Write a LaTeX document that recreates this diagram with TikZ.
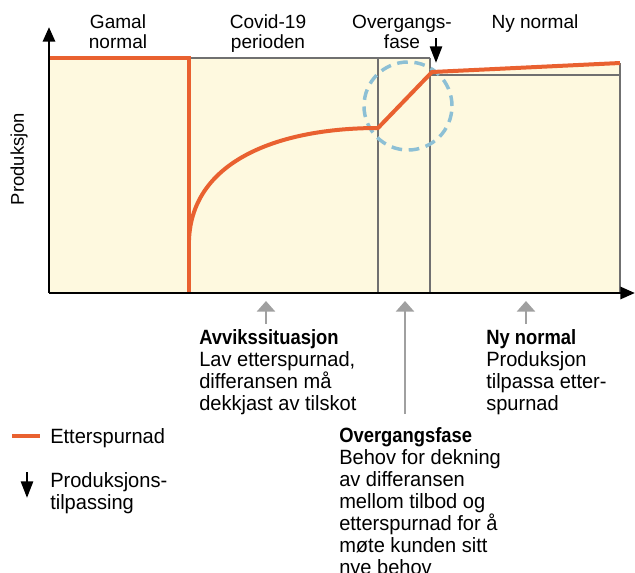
\documentclass[tikz,border=0pt]{standalone}
\usepackage{fontspec}
\setmainfont{Liberation Sans}
\newfontfamily\condfont[FakeStretch=0.97]{Liberation Sans}
\newfontfamily\condbold[FakeStretch=0.89]{Liberation Sans Bold}
\usetikzlibrary{arrows.meta}
\definecolor{orng}{RGB}{233,97,48}
\definecolor{cream}{RGB}{254,249,223}
\definecolor{boxgray}{RGB}{112,112,112}
\definecolor{dashblue}{RGB}{141,192,213}
\definecolor{pointgray}{RGB}{160,160,160}
\tikzset{
  header/.style={align=center,inner sep=0pt,anchor=base,font=\fontsize{14.3}{15}\selectfont},
  note/.style={align=left,inner sep=0pt,anchor=base west,font=\condfont\fontsize{15.5}{16.5}\selectfont},
  boxline/.style={draw=boxgray,line width=1.2pt},
  demand/.style={draw=orng,line width=3pt},
  axis/.style={line width=2.2pt,-{Triangle[width=9pt,length=11pt]}},
  pointer/.style={draw=pointgray,line width=2.2pt,-{Triangle[width=13.5pt,length=8pt]}},
  adjust/.style={line width=2pt,-{Triangle[width=9pt,length=12.5pt]}}
}
\begin{document}
\begin{tikzpicture}[x=0.75pt,y=-0.75pt]
\useasboundingbox (0,0) rectangle (635,572);
% key points
\coordinate (O) at (49,293);
\coordinate (ytop) at (49,27);
\coordinate (xend) at (635,293);
\coordinate (g0) at (49,58);
\coordinate (g1) at (189,58);
\coordinate (g2) at (189,293);
\coordinate (c0) at (189,240);
\coordinate (c1) at (378,128);
\coordinate (t1) at (432,72);
\coordinate (n1) at (620,63);
% fill
\fill[cream] (49,58) -- (430,58) -- (430,72) -- (n1) -- (620,293) -- (O) -- cycle;
% boxes
\draw[boxline] (189,58) -- (430,58);
\draw[boxline] (378,58) -- (378,293);
\draw[boxline] (430,58) -- (430,293);
\draw[boxline] (430,75) -- (620,75);
\draw[boxline] (n1) -- (620,293);
% dashed circle
\node[draw=dashblue,line width=2.6pt,dash pattern=on 8pt off 5pt,circle,minimum size=66pt,inner sep=0pt] (circ) at (408,106) {};
% demand line
\draw[demand] (g0) -- (g1) -- (g2);
\draw[demand,line join=round] (c0) .. controls (192,160) and (280,128) .. (c1) -- (t1) -- (n1);
% axes
\draw[axis] (O) -- (ytop);
\draw[axis] (O) -- (xend);
% headers
\node[header] (h1) at (118,48) {Gamal\\normal};
\node[header] (h2) at (268,48) {Covid-19\\perioden};
\node[header] (h3) at (402,48) {Overgangs-\\fase};
\node[header] (h4) at (535,28) {Ny normal};
\node[rotate=90,inner sep=0pt,font=\fontsize{13.8}{15}\selectfont] (ylab) at (19,159) {Produksjon};
% adjustment arrow
\coordinate (a0) at (436,38);
\coordinate (a1) at (436,63);
\draw[adjust] (a0) -- (a1);
% notes
\node[note] (n-avvik) at (199,410) {{\condbold Avvikssituasjon}\\Lav etterspurnad,\\differansen må\\dekkjast av tilskot};
\node[note] (n-ny) at (486,410) {{\condbold Ny normal}\\Produksjon\\tilpassa etter-\\spurnad};
\node[note] (n-over) at (339,574) {{\condbold Overgangsfase}\\Behov for dekning\\av differansen\\mellom tilbod og\\etterspurnad for å\\møte kunden sitt\\nye behov};
\coordinate (p1a) at (266,324); \coordinate (p1b) at (266,301);
\coordinate (p2a) at (405,414); \coordinate (p2b) at (405,301);
\coordinate (p3a) at (526,324); \coordinate (p3b) at (526,301);
\draw[pointer] (p1a) -- (p1b);
\draw[pointer] (p2a) -- (p2b);
\draw[pointer] (p3a) -- (p3b);
% legend
\coordinate (l0) at (12,436);
\coordinate (l1) at (40,436);
\draw[demand] (l0) -- (l1);
\node[note] (leg1) at (50,443) {Etterspurnad};
\coordinate (la0) at (27,472);
\coordinate (la1) at (27,498);
\draw[adjust] (la0) -- (la1);
\node[note] (leg2) at (50,509) {Produksjons-\\tilpassing};
\end{tikzpicture}
\end{document}
